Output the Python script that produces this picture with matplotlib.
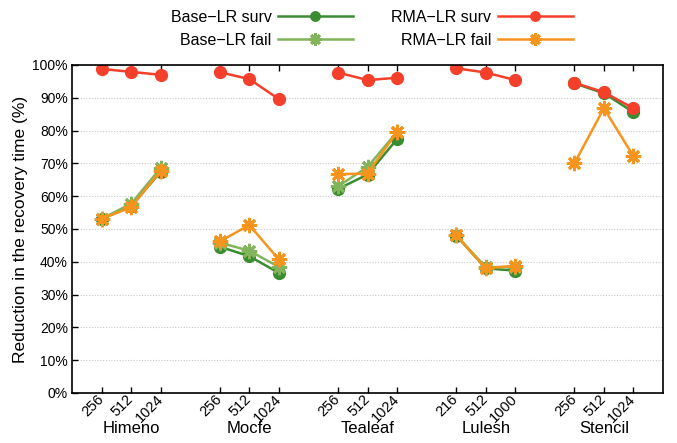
import numpy as np
import matplotlib
matplotlib.use("Agg")
import matplotlib.pyplot as plt
from matplotlib.transforms import ScaledTranslation

plt.rcParams['font.family'] = ['Liberation Sans', 'DejaVu Sans']

# benchmarks and process counts
apps = ["Himeno", "Mocfe", "Tealeaf", "Lulesh", "Stencil"]
procs = [["256", "512", "1024"],
         ["256", "512", "1024"],
         ["256", "512", "1024"],
         ["216", "512", "1000"],
         ["256", "512", "1024"]]

# reduction in recovery time (%), per app x procs
base_surv = [53.0, 57.0, 67.4,
             44.6, 41.7, 36.6,
             62.2, 66.6, 77.4,
             48.0, 38.0, 37.3,
             94.4, 91.4, 85.6]
# stencil base fail not visible in the original
base_fail = [53.1, 57.7, 68.6,
             45.8, 43.4, 38.4,
             63.0, 68.9, 79.6,
             48.1, 38.4, 38.4,
             np.nan, np.nan, np.nan]
rma_surv = [98.8, 97.9, 97.0,
            97.8, 95.7, 89.6,
            97.7, 95.4, 96.1,
            99.0, 97.7, 95.4,
            94.6, 91.7, 86.8]
rma_fail = [53.1, 56.6, 67.8,
            46.2, 51.2, 40.7,
            66.7, 66.9, 79.6,
            48.1, 38.0, 38.8,
            70.0, 86.8, 72.2]

dark_green = "#3a8c30"
light_green = "#82b45c"
red = "#f4402b"
orange = "#f7941e"

fig = plt.figure(figsize=(6.77, 4.43), dpi=100)
ax = fig.add_axes([0.1064, 0.1129, 0.8729, 0.7404])

xs, labels = [], []
for g, p in enumerate(procs):
    for i, lab in enumerate(p):
        xs.append(4 * g + i)
        labels.append(lab)
xs = np.array(xs)

series = [
    (base_surv, "Base\u2212LR surv", dark_green, "o", 8.5, 1),
    (base_fail, "Base\u2212LR fail", light_green, (8, 2, 0), 11, 2),
    (rma_surv, "RMA\u2212LR surv", red, "o", 8.5, 1),
    (rma_fail, "RMA\u2212LR fail", orange, (8, 2, 0), 11, 2),
]
handles = []
for vals, lab, col, mk, ms, mew in series:
    vals = np.array(vals)
    h = None
    for g in range(len(apps)):
        sl = slice(3 * g, 3 * g + 3)
        h, = ax.plot(xs[sl], vals[sl], color=col, lw=1.8, marker=mk,
                     markersize=ms, markeredgewidth=mew, label=lab)
    handles.append(h)

ax.set_xlim(-1, 19)
ax.set_ylim(0, 100)
ax.set_yticks(np.arange(0, 101, 10))
ax.set_yticklabels([f"{v}%" for v in range(0, 101, 10)], fontsize=10)
ax.set_xticks(xs)
ax.set_xticklabels(labels, rotation=45, ha="right", va="center",
                   rotation_mode="anchor", fontsize=10.5)
shift = ScaledTranslation(7.5 / 72, 3 / 72, fig.dpi_scale_trans)
for t in ax.get_xticklabels():
    t.set_transform(t.get_transform() + shift)
ax.tick_params(axis="y", direction="in", length=4, width=1, pad=3)
ax.tick_params(axis="x", direction="in", length=4, width=1, top=True, pad=3)
ax.grid(axis="y", color="#c8c8c8", ls=(0, (1, 1.5)), lw=0.8)
ax.set_axisbelow(True)
for s in ax.spines.values():
    s.set_linewidth(1.2)

for g, app in enumerate(apps):
    ax.annotate(app, xy=(4 * g + 1, 0), xycoords=("data", "axes fraction"),
                xytext=(0, -25.5), textcoords="offset points",
                ha="center", va="center", fontsize=12)

ax.set_ylabel("Reduction in the recovery time (%)", fontsize=12.5, labelpad=3)

fig.legend(handles, [h.get_label() for h in handles],
           loc="upper center", bbox_to_anchor=(0.549, 1.01), ncol=2,
           frameon=False, markerfirst=False, handlelength=4.7, markerscale=0.8,
           columnspacing=2.4, labelspacing=0.5, fontsize=11.5, handletextpad=0.4)

fig.savefig("out.png", dpi=100)
